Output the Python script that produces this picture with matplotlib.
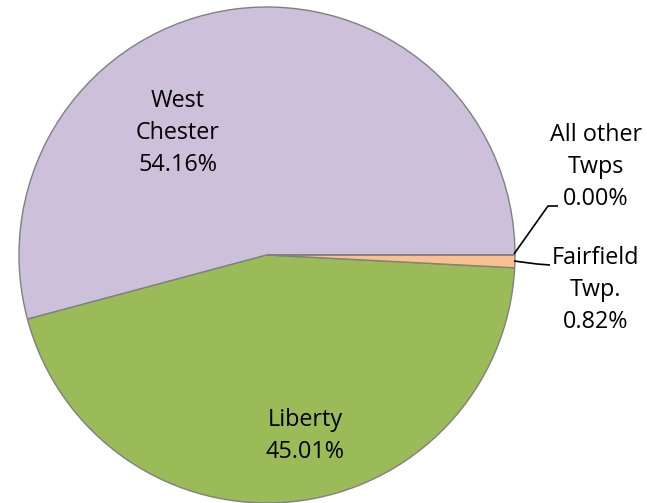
import matplotlib
matplotlib.use("Agg")
import matplotlib.pyplot as plt

categories = ["West Chester", "Liberty", "Fairfield Twp.", "All other Twps"]
values = [54.16, 45.01, 0.82, 0.00]
label_texts = ["West\nChester\n54.16%", "Liberty\n45.01%", "Fairfield\nTwp.\n0.82%", "All other\nTwps\n0.00%"]
colors = ["#CCC0DA", "#9BBB59", "#FAC090", "#4F81BD"]

W, H = 647, 503
fig = plt.figure(figsize=(W / 100, H / 100), dpi=100)
ax = fig.add_axes([0, 0, 1, 1])
ax.set_xlim(0, W)
ax.set_ylim(0, H)
ax.set_aspect("equal")
ax.axis("off")

cx, cy, r = 267, H - 255, 248
ax.pie(values, colors=colors, startangle=0, counterclock=True, center=(cx, cy), radius=r,
       wedgeprops=dict(edgecolor="#808080", linewidth=1.0), frame=False)
ax.set_xlim(0, W)
ax.set_ylim(0, H)

font = dict(family=["Open Sans", "DejaVu Sans"], fontsize=16.8, color="#000000",
            ha="center", va="center", multialignment="center", linespacing=1.46)
pos = [(178, 133), (305, 436), (596, 290), (596, 167)]
for t, (x, y) in zip(label_texts, pos):
    ax.text(x, H - y, t, **font)

# leader lines
ax.plot([514, 548, 558], [H - 254, H - 206, H - 206], color="black", lw=1.2, solid_capstyle="butt")
ax.plot([514, 537, 550], [H - 261, H - 264, H - 265], color="black", lw=1.2, solid_capstyle="butt")

fig.savefig("out.png", dpi=100)
